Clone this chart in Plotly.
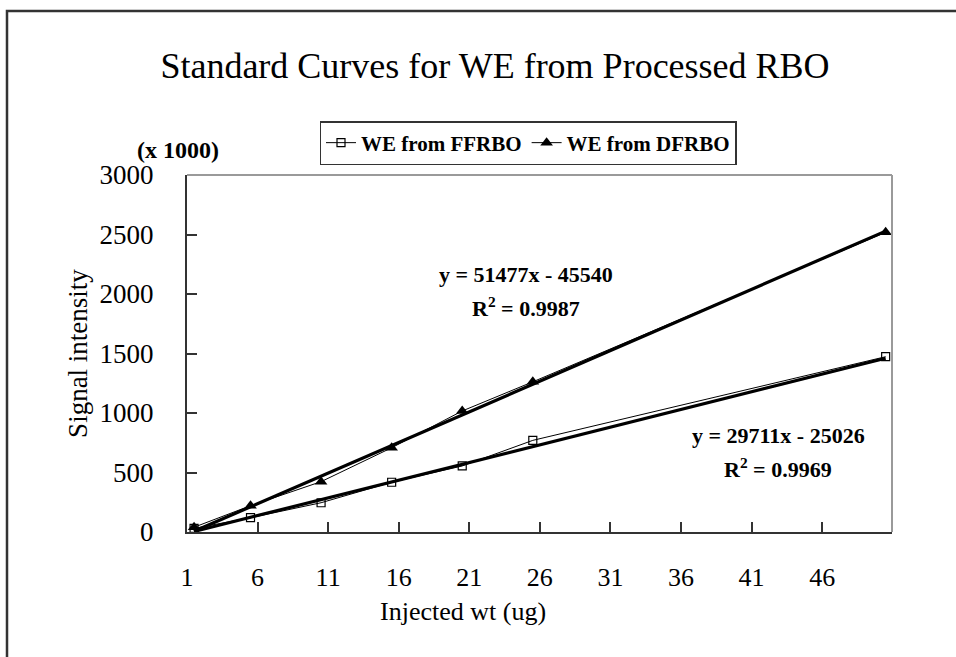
import plotly.graph_objects as go

# Injected weight (ug) and signal intensity (x 1000)
injected_wt = [1, 5, 10, 15, 20, 25, 50]
ffrbo_signal = [30, 120, 246, 418, 555, 770, 1473]
dfrbo_signal = [40, 221, 423, 708, 1017, 1262, 2518]

# Linear trendlines: slope / intercept in raw units, plotted in thousands
ffrbo_fit = (29711, -25026, 0.9969)
dfrbo_fit = (51477, -45540, 0.9987)

x_ticks = [0.5, 5.5, 10.5, 15.5, 20.5, 25.5, 30.5, 35.5, 40.5, 45.5]
x_tick_text = ["1", "6", "11", "16", "21", "26", "31", "36", "41", "46"]
y_ticks = [0, 500, 1000, 1500, 2000, 2500, 3000]

SERIF = "Liberation Serif"

# Figure / plot-area geometry in pixels
W, H = 956, 657
PL, PR, PT, PB = 187, 892, 175, 532


def px_x(px):
    return (px - PL) / (PR - PL)


def px_y(py):
    return (PB - py) / (PB - PT)


def trend(fit, xs):
    slope, intercept, _ = fit
    return [(slope * x + intercept) / 1000 for x in xs]


fit_x = [injected_wt[0], injected_wt[-1]]

fig = go.Figure()

# Trendlines (heavy black)
for fit in (ffrbo_fit, dfrbo_fit):
    fig.add_trace(go.Scatter(
        x=fit_x, y=trend(fit, fit_x), mode="lines",
        line=dict(color="black", width=3.2), showlegend=False, hoverinfo="skip",
    ))

# Measured series
fig.add_trace(go.Scatter(
    x=injected_wt, y=ffrbo_signal, mode="lines+markers", name="WE from FFRBO",
    line=dict(color="black", width=1),
    marker=dict(symbol="square-open", size=8, color="black", line=dict(width=1.2)),
))
fig.add_trace(go.Scatter(
    x=injected_wt, y=dfrbo_signal, mode="lines+markers", name="WE from DFRBO",
    line=dict(color="black", width=1),
    marker=dict(symbol="triangle-up", size=11, color="black"),
))


def eq_text(fit):
    slope, intercept, r2 = fit
    sign = "-" if intercept < 0 else "+"
    return f"y = {slope}x {sign} {abs(intercept)}", f"R<sup>2</sup> = {r2}"


def label(text, px, py, size, bold=True):
    fig.add_annotation(
        xref="x domain", yref="y domain", showarrow=False,
        x=px_x(px), y=px_y(py), xanchor="center", yanchor="middle",
        text=f"<b>{text}</b>" if bold else text,
        font=dict(family=SERIF, size=size, color="black"),
    )


for fit, (px, py) in ((dfrbo_fit, (526, 274)), (ffrbo_fit, (778, 435))):
    line1, line2 = eq_text(fit)
    label(line1, px, py, 22)
    label(line2, px, py + 33, 22)
label("(x 1000)", 178, 150, 24)
label("Injected wt (ug)", 463, 611, 26, bold=False)

# Outer chart border and grey plot-area frame (top / right)
fig.add_shape(type="rect", xref="x domain", yref="y domain",
              x0=px_x(7), x1=px_x(980), y0=px_y(690), y1=px_y(11),
              line=dict(color="#333333", width=2.5), layer="below")
fig.add_shape(type="line", xref="x domain", yref="y domain",
              x0=0, x1=1, y0=1, y1=1, line=dict(color="#9a9a9a", width=2))
fig.add_shape(type="line", xref="x domain", yref="y domain",
              x0=1, x1=1, y0=0, y1=1, line=dict(color="#9a9a9a", width=2))

fig.update_layout(
    width=W, height=H,
    margin=dict(l=PL, r=W - PR, t=PT, b=H - PB),
    paper_bgcolor="white", plot_bgcolor="white",
    font=dict(family=SERIF, color="black"),
    title=dict(text="Standard Curves for WE from Processed RBO",
               x=495 / W, xanchor="center", y=1 - 65 / H, yanchor="middle",
               font=dict(family=SERIF, size=36, color="black")),
    legend=dict(orientation="h", x=px_x(528), xanchor="center",
                y=px_y(143), yanchor="middle",
                bordercolor="#333333", borderwidth=1.5, bgcolor="white",
                font=dict(family=SERIF, size=21, color="black", weight="bold"),
                itemwidth=30, tracegroupgap=0),
    xaxis=dict(range=[0.5, 50.45], tickvals=x_ticks, ticktext=x_tick_text,
               ticks="inside", ticklen=10, tickcolor="#333333", tickwidth=1.5,
               showline=True, linecolor="#333333", linewidth=2,
               showgrid=False, zeroline=False, ticklabelstandoff=21,
               tickfont=dict(family=SERIF, size=26, color="black")),
    yaxis=dict(range=[0, 3000], tickvals=y_ticks,
               ticks="inside", ticklen=10, tickcolor="#333333", tickwidth=1.5,
               showline=True, linecolor="#333333", linewidth=2,
               showgrid=False, zeroline=False, ticklabelstandoff=26,
               tickfont=dict(family=SERIF, size=27, color="black"),
               title=dict(text="Signal intensity", standoff=4,
                          font=dict(family=SERIF, size=27, color="black"))),
)

fig.write_html("out.html")
